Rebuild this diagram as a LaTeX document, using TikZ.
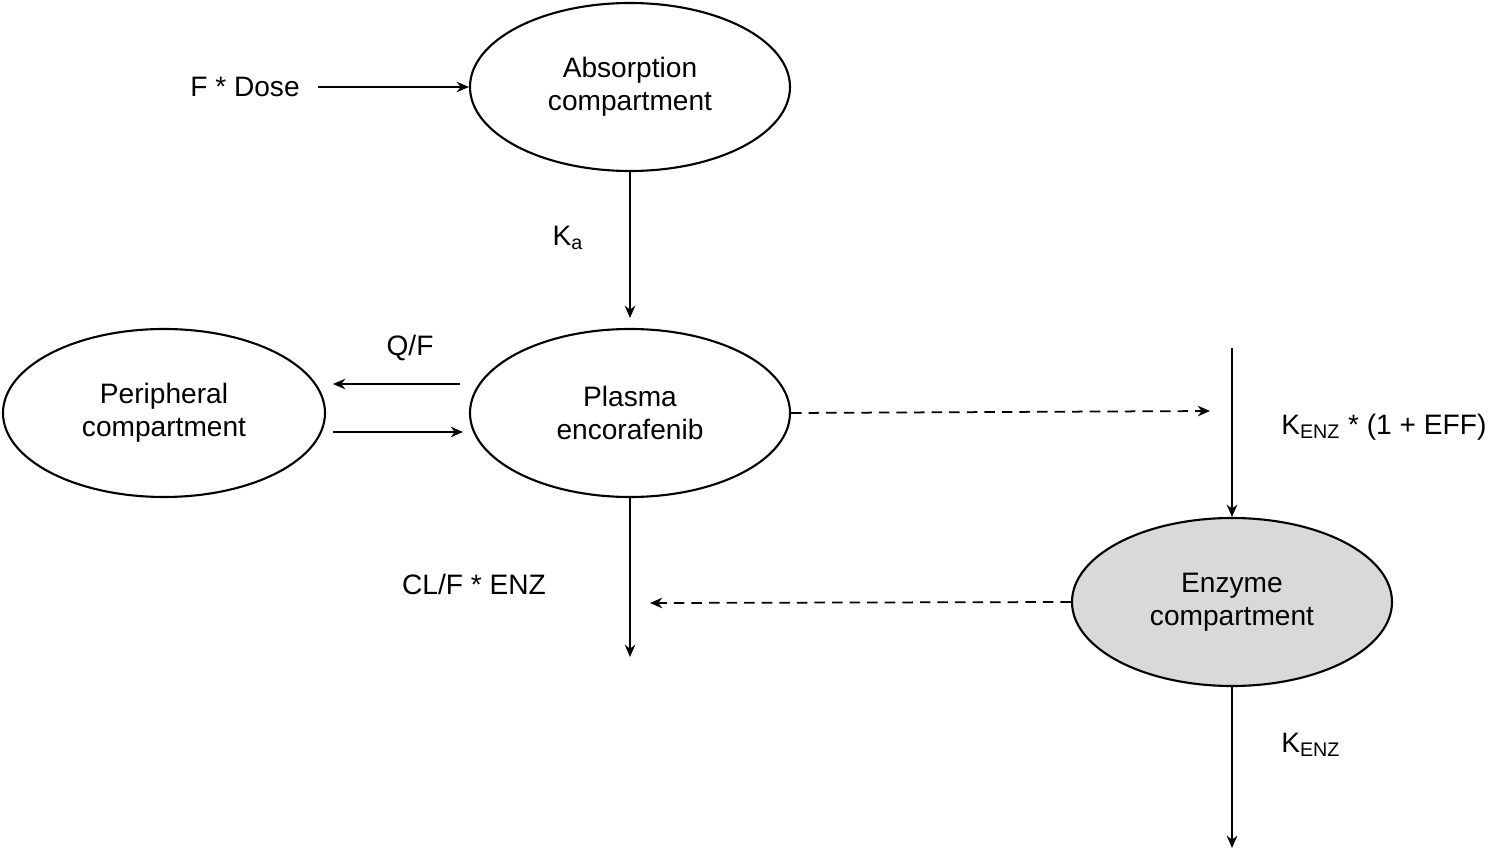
\documentclass[tikz,border=0pt]{standalone}
\usepackage{fontspec}
\setmainfont{Liberation Sans}
\usetikzlibrary{shapes.geometric,arrows.meta}
\begin{document}
\begin{tikzpicture}[x=0.02cm,y=-0.02cm,
  comp/.style={ellipse,draw,line width=1.2pt,minimum width=320*0.02cm,minimum height=168*0.02cm,align=center,font=\fontsize{16}{19}\selectfont,inner sep=0pt},
  lab/.style={font=\fontsize{16}{19}\selectfont,inner sep=0pt},
  arr/.style={line width=1pt,-{Stealth[length=7pt,width=6pt]}},
  darr/.style={arr,dash pattern=on 6pt off 4pt}]
\useasboundingbox (0,0) rectangle (1499,851);
\node[comp] (abs) at (630,87) {Absorption\\compartment};
\node[comp] (pla) at (630,413) {Plasma\\encorafenib};
\node[comp,minimum width=322*0.02cm] (per) at (164,413) {Peripheral\\compartment};
\node[comp,fill={rgb,255:red,217;green,217;blue,217}] (enz) at (1232,602) {Enzyme\\compartment};
\node[lab] (dose) at (245,87) {F * Dose};
\coordinate (dstart) at (318,87);
\draw[arr] (dstart) -- (abs.west);
\draw[arr] (abs.south) -- (630,318) coordinate (kaend);
\node[lab] (ka) at (568,238) {K\textsubscript{a}};
\node[lab] (qf) at (410,348) {Q/F};
\coordinate (qa1) at (460,384); \coordinate (qa2) at (333,384);
\coordinate (qb1) at (333,432); \coordinate (qb2) at (463,432);
\draw[arr] (qa1) -- (qa2);
\draw[arr] (qb1) -- (qb2);
\coordinate (dend) at (1210,411);
\draw[darr] (pla.east) -- (dend);
\coordinate (vtop) at (1232,348);
\draw[arr] (vtop) -- (enz.north);
\node[lab,anchor=west] (keff) at (1281,427) {K\textsubscript{ENZ} * (1 + EFF)};
\coordinate (clend) at (630,657);
\draw[arr] (pla.south) -- (clend);
\node[lab] (cl) at (474,584) {CL/F * ENZ};
\coordinate (eend) at (650,603);
\draw[darr] (enz.west) -- (eend);
\coordinate (kend) at (1232,848);
\draw[arr] (enz.south) -- (kend);
\node[lab,anchor=west] (kenz) at (1281,745) {K\textsubscript{ENZ}};
\end{tikzpicture}
\end{document}
